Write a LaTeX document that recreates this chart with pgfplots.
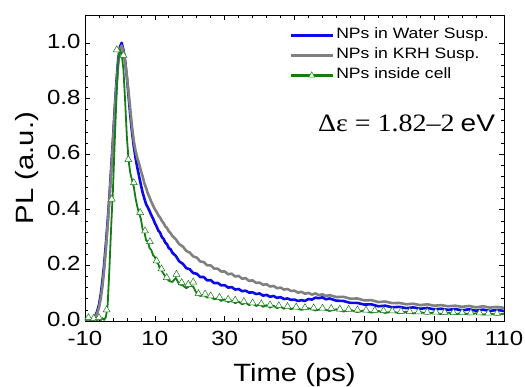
\documentclass[border=0pt]{standalone}
\usepackage{pgfplots}
\pgfplotsset{compat=1.18}
\usepackage{fontspec}
\setmainfont{Liberation Sans}[FakeStretch=1.17]
\newfontfamily\seriffont{Liberation Serif}[FakeStretch=1.12]
\definecolor{cblue}{RGB}{10,10,235}
\definecolor{cgrey}{RGB}{128,128,128}
\definecolor{cgreen}{RGB}{20,125,20}
\begin{document}
\begin{tikzpicture}
\begin{axis}[
  name=ax,
  scale only axis,
  width=419pt, height=306pt,
  xmin=-10, xmax=110, ymin=0, ymax=1.1,
  xtick={-10,10,30,50,70,90,110},
  xticklabels={-10,10,30,50,70,90,110},
  ytick={0,0.2,0.4,0.6,0.8,1.0},
  yticklabels={0.0,0.2,0.4,0.6,0.8,1.0},
  minor x tick num=4, minor y tick num=4,
  tick align=inside,
  major tick length=5pt, minor tick length=3pt,
  tick style={black, line width=0.6pt},
  axis line style={line width=0.8pt},
  ticklabel style={font=\fontsize{20.5}{24}\selectfont},
  xticklabel style={yshift=-7pt},
  yticklabel style={xshift=-1pt, yshift=1.5pt},
  xlabel={Time (ps)}, ylabel={PL (a.u.)},
  label style={font=\fontsize{25}{30}\selectfont},
  xlabel style={at={(axis description cs:0.5,-0.176)}, anchor=center},
  ylabel style={at={(axis description cs:-0.1384,0.5)}, anchor=center},
  legend style={at={(axis description cs:0.487,0.967)}, anchor=north west,
    draw=none, fill=none, font=\fontsize{15}{17}\selectfont,
    inner sep=0pt,
    nodes={inner xsep=2pt, inner ysep=3.5pt, text height=10pt, text depth=3pt}},
  legend cell align=left,
  legend image code/.code={\draw[mark repeat=2,mark phase=2,#1] plot coordinates {(0pt,0pt) (21pt,0pt) (42pt,0pt)};},
  clip=true,
]
\addplot[cblue, line width=2.6pt, line join=round, forget plot] coordinates {
(-10,0.000)(-9.5,0.002)(-9,0.001)(-8.5,0.004)(-8,0.006)(-7.5,0.012)(-7,0.020)(-6.5,0.035)(-6,0.058)(-5.5,0.095)
(-5,0.145)(-4.5,0.205)(-4,0.280)(-3.5,0.360)(-3,0.450)(-2.5,0.550)(-2,0.650)(-1.5,0.760)(-1,0.860)(-0.5,0.940)
(0,0.985)(0.5,1.000)(1,0.975)(1.5,0.935)(2,0.875)(2.5,0.805)(3,0.735)(3.5,0.675)(4,0.625)(4.5,0.585)
(5,0.550)(5.5,0.520)(6,0.490)(6.5,0.462)(7,0.440)(7.5,0.420)(8,0.408)(8.5,0.395)(9,0.380)(9.5,0.368)
(10,0.352)(10.5,0.340)(11,0.325)(11.5,0.318)(12,0.302)(12.5,0.295)(13,0.282)(13.5,0.276)(14,0.262)(14.5,0.258)
(15,0.246)(16,0.234)(17,0.214)(18,0.206)(19,0.190)(20,0.186)(21,0.172)(22,0.170)(23,0.158)(24,0.158)
(25,0.146)(26,0.147)(27,0.136)(28,0.137)(29,0.128)(30,0.129)(31,0.120)(32,0.122)(33,0.113)(34,0.115)
(35,0.107)(36,0.109)(37,0.102)(38,0.103)(39,0.097)(40,0.099)(41,0.091)(42,0.094)(43,0.087)(44,0.090)
(45,0.083)(46,0.086)(47,0.079)(48,0.081)(49,0.076)(50,0.077)(51,0.072)(52,0.075)(53,0.072)(54,0.079)
(55,0.077)(56,0.084)(57,0.082)(58,0.085)(59,0.078)(60,0.081)(62,0.073)(64,0.072)(66,0.065)(68,0.065)
(70,0.059)(72,0.060)(74,0.053)(76,0.055)(78,0.049)(80,0.051)(82,0.046)(84,0.049)(86,0.044)(88,0.047)
(90,0.042)(92,0.044)(94,0.040)(96,0.043)(98,0.038)(100,0.042)(102,0.037)(104,0.041)(106,0.036)(108,0.040)(110,0.036)
};
\addplot[cgrey, line width=2.6pt, line join=round, forget plot] coordinates {
(-10,0.000)(-9,0.001)(-8.5,0.002)(-8,0.004)(-7.5,0.008)(-7,0.015)(-6.5,0.028)(-6,0.048)(-5.5,0.080)
(-5,0.125)(-4.5,0.185)(-4,0.260)(-3.5,0.345)(-3,0.435)(-2.5,0.535)(-2,0.640)(-1.5,0.745)(-1,0.845)(-0.5,0.925)
(0,0.975)(0.5,0.990)(1,0.970)(1.5,0.930)(2,0.880)(2.5,0.820)(3,0.755)(3.5,0.695)(4,0.645)(4.5,0.610)
(5,0.585)(5.5,0.565)(6,0.540)(6.5,0.520)(7,0.495)(7.5,0.478)(8,0.458)(8.5,0.444)(9,0.428)(9.5,0.415)
(10,0.402)(10.5,0.392)(11,0.380)(11.5,0.372)(12,0.360)(12.5,0.352)(13,0.340)(13.5,0.334)(14,0.322)(14.5,0.316)
(15,0.306)(16,0.294)(17,0.276)(18,0.268)(19,0.252)(20,0.246)(21,0.232)(22,0.228)(23,0.214)(24,0.212)
(25,0.200)(26,0.200)(27,0.188)(28,0.188)(29,0.178)(30,0.178)(31,0.168)(32,0.170)(33,0.160)(34,0.162)
(35,0.152)(36,0.154)(37,0.144)(38,0.146)(39,0.137)(40,0.138)(41,0.130)(42,0.132)(43,0.124)(44,0.126)
(45,0.118)(46,0.120)(47,0.113)(48,0.115)(49,0.108)(50,0.109)(51,0.102)(52,0.105)(53,0.098)(54,0.101)
(55,0.095)(56,0.099)(57,0.093)(58,0.096)(59,0.090)(60,0.093)(62,0.086)(64,0.087)(66,0.080)(68,0.081)
(70,0.074)(72,0.075)(74,0.068)(76,0.070)(78,0.064)(80,0.065)(82,0.060)(84,0.062)(86,0.057)(88,0.060)
(90,0.055)(92,0.057)(94,0.053)(96,0.055)(98,0.051)(100,0.054)(102,0.049)(104,0.053)(106,0.048)(108,0.051)(110,0.047)
};
\addplot[cgreen, line width=1.8pt, line join=round, forget plot] coordinates {
(-10,0.010)(-9.5,0.004)(-9,0.012)(-8.5,0.003)(-8,0.010)(-7.5,0.002)(-7,0.008)(-6.5,0.002)(-6,0.009)(-5.5,0.003)
(-5,0.010)(-4.5,0.004)(-4,0.015)(-3.5,0.060)(-3,0.190)(-2.5,0.340)(-2,0.470)(-1.5,0.640)(-1,0.800)(-0.5,0.930)
(0,0.975)(0.5,0.960)(1,0.905)(1.5,0.790)(2,0.660)(2.5,0.575)(3,0.530)(3.5,0.505)(4,0.480)(4.5,0.440)
(5,0.410)(5.5,0.385)(6,0.368)(6.5,0.330)(7,0.320)(7.5,0.290)(8,0.285)(8.5,0.262)(9,0.255)(9.5,0.236)
(10,0.230)(10.5,0.212)(11,0.204)(11.5,0.186)(12,0.180)(13,0.160)(14,0.145)(15,0.140)(16,0.155)(17,0.132)
(18,0.128)(19,0.118)(20,0.126)(21,0.124)(22,0.098)(23,0.090)(24,0.094)(25,0.084)(26,0.088)(27,0.078)
(28,0.082)(29,0.072)(30,0.078)(31,0.068)(32,0.074)(33,0.064)(34,0.070)(35,0.060)(36,0.066)(37,0.057)
(38,0.063)(39,0.054)(40,0.060)(41,0.051)(42,0.057)(43,0.048)(44,0.055)(45,0.046)(46,0.052)(47,0.044)
(48,0.050)(49,0.042)(50,0.048)(52,0.040)(54,0.046)(56,0.038)(58,0.044)(60,0.036)(62,0.042)(64,0.034)
(66,0.040)(68,0.032)(70,0.038)(72,0.030)(74,0.036)(76,0.029)(78,0.034)(80,0.028)(82,0.033)(84,0.027)
(86,0.032)(88,0.026)(90,0.031)(92,0.025)(94,0.030)(96,0.024)(98,0.029)(100,0.024)(102,0.028)(104,0.023)
(106,0.027)(108,0.022)(110,0.026)
};
\addplot[only marks, mark=triangle*, mark size=4pt, mark options={fill=white, draw=cgreen, line width=0.5pt}, forget plot] coordinates {
(-9,0.012)(-7.5,0.010)(-6,0.012)(-3.8,0.040)(-2.35,0.438)(-0.9,0.975)(1.0,0.955)(2.4,0.580)(4.0,0.497)
(5.8,0.390)(7.2,0.324)(8.6,0.285)(10.5,0.216)(11.9,0.187)(13.4,0.156)(16.2,0.168)(17.7,0.138)(19.6,0.132)
(21.0,0.140)(22.5,0.098)(24.4,0.097)(26,0.090)(28.5,0.085)(31,0.078)(33,0.075)(35.5,0.070)(38,0.065)
(40.5,0.062)(43,0.058)(45.5,0.055)(48,0.052)(50.5,0.050)(53,0.048)(55.5,0.047)(58,0.046)(60.5,0.045)
(63,0.043)(65.5,0.042)(68,0.040)(70.5,0.039)(73,0.038)(75.5,0.037)(78,0.036)(80.5,0.035)(83,0.034)
(85.5,0.033)(88,0.032)(90.5,0.032)(93,0.031)(95.5,0.030)(98,0.030)(100.5,0.029)(103,0.029)(105.5,0.028)(108,0.028)
};
\addlegendimage{cblue, line width=3pt}
\addlegendentry{NPs in Water Susp.}
\addlegendimage{cgrey, line width=3pt}
\addlegendentry{NPs in KRH Susp.}
\addlegendimage{cgreen, line width=2.6pt, mark=triangle*, mark size=3.5pt, mark options={fill=white, draw=cgreen, line width=0.5pt}}
\addlegendentry{NPs inside cell}
\node[anchor=east, inner sep=0pt] at (axis cs:107.5,0.709)
  {{\seriffont\fontsize{25}{28}\selectfont Δε = 1.82–2}\hspace{6pt}{\fontsize{24}{28}\selectfont eV}};
\end{axis}
\pgfresetboundingbox
\path[use as bounding box] ([xshift=-85pt,yshift=-66pt]ax.south west) rectangle ([xshift=21pt,yshift=15pt]ax.north east);
\end{tikzpicture}
\end{document}
